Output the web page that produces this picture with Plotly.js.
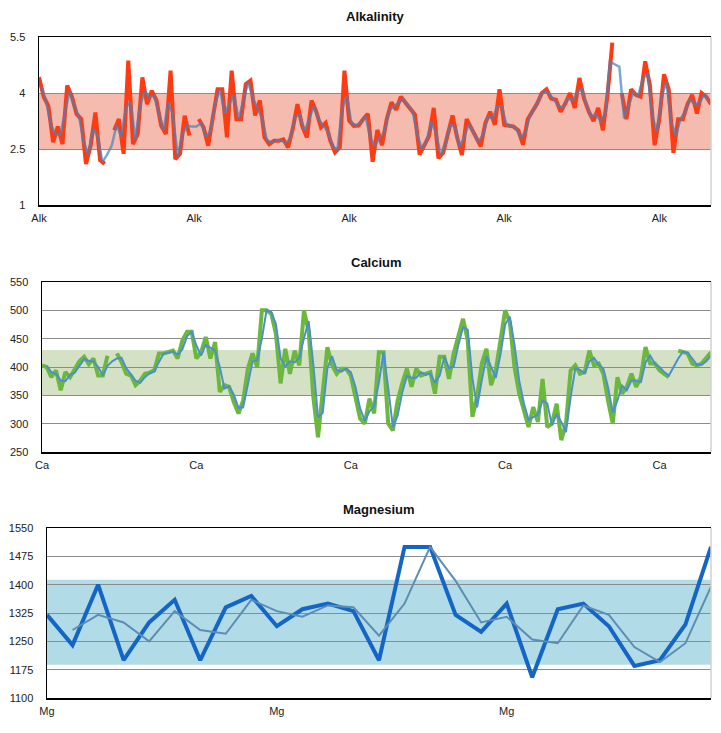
<!DOCTYPE html>
<html>
<head>
<meta charset="utf-8">
<script src="https://cdn.plot.ly/plotly-3.0.1.min.js"></script>
<style>
  html, body { margin: 0; padding: 0; background: #fff; }
  #plotDiv { width: 721px; height: 733px; }
</style>
</head>
<body>
<div id="plotDiv"></div>
<script>
// readings, one value per test (null = no reading that day)
var alkValues = [
  4.42, 3.9, 3.65, 2.68, 3.1, 2.63, 4.2, 3.9, 3.44, 3.3,
  2.1, 2.6, 3.48, 2.2, 2.1, null, 3.0, 3.3, 2.37, 4.87,
  2.63, 2.9, 4.42, 3.7, 4.06, 3.8, 3.12, 2.9, 4.6, 2.23,
  2.37, 3.39, 2.86, null, 3.3, 3.08, 2.59, 3.35, 4.1, 4.1,
  2.81, 4.6, 3.3, 3.3, 4.24, 4.33, 3.4, 3.8, 2.81, 2.63,
  2.72, 2.72, 2.76, 2.54, 3.04, 3.7, 3.12, 2.81, 3.8, 3.5,
  3.08, 3.2, 2.72, 2.41, 2.54, 4.6, 3.26, 3.12, 3.13, 3.3,
  3.44, 2.16, 3.01, 2.6, 3.3, 3.75, 3.55, 3.9, 3.75, 3.6,
  3.42, 2.35, 2.6, 2.85, 3.6, 2.25, 2.4, 2.9, 3.4, 2.8,
  2.34, 3.3, 3.05, 2.8, 2.57, 3.2, 3.5, 3.15, 4.1, 3.15,
  3.13, 3.1, 3.0, 2.62, 3.3, 3.5, 3.72, 4.0, 4.1, 3.85,
  3.82, 3.5, 3.72, 4.0, 3.6, 4.4, 3.85, 3.5, 3.25, 3.6,
  3.0, 3.97, 5.35, null, 4.0, 3.3, 4.1, 3.95, 3.9, 4.85,
  4.2, 2.6, 3.3, 4.5, 4.1, 2.4, 3.3, 3.3, 3.7, 3.95,
  3.45, 4.0, 3.9, 3.7
];
var alkAvg = [
  null, 4.16, 3.78, 3.17, 2.89, 2.87, 3.42, 4.05, 3.67, 3.37,
  2.7, 2.35, 3.04, 2.84, 2.15, 2.35, 2.6, 3.15, 2.84, 3.62,
  3.75, 2.77, 3.66, 4.06, 3.88, 3.93, 3.46, 3.01, 3.75, 3.42,
  2.3, 2.88, 3.13, 3.1, 3.1, 3.19, 2.84, 2.97, 3.73, 4.1,
  3.46, 3.71, 3.95, 3.3, 3.77, 4.29, 3.87, 3.6, 3.31, 2.72,
  2.68, 2.72, 2.74, 2.65, 2.79, 3.37, 3.41, 2.97, 3.31, 3.65,
  3.29, 3.14, 2.96, 2.57, 2.48, 3.57, 3.93, 3.19, 3.13, 3.22,
  3.37, 2.8, 2.59, 2.81, 2.95, 3.53, 3.65, 3.73, 3.83, 3.68,
  3.51, 2.89, 2.48, 2.73, 3.23, 2.93, 2.33, 2.65, 3.15, 3.1,
  2.57, 2.82, 3.18, 2.93, 2.69, 2.89, 3.35, 3.33, 3.63, 3.63,
  3.14, 3.12, 3.05, 2.81, 2.96, 3.4, 3.61, 3.86, 4.05, 3.98,
  3.84, 3.66, 3.61, 3.86, 3.8, 4.0, 4.13, 3.68, 3.38, 3.43,
  3.25, 3.44, 4.84, 4.77, 4.7, 3.32, 3.7, 4.03, 3.93, 4.38,
  4.53, 3.4, 2.95, 3.9, 4.3, 3.25, 2.85, 3.3, 3.5, 3.83,
  3.7, 3.73, 3.95, 3.8
];

var caValues = [
  403, 400, 382, 394, 359, 391, 382, 397, 410, 418,
  405, 415, 385, 385, 420, null, 424, 409, 388, 385,
  368, 376, 388, 390, 394, 424, 424, 426, 429, 415,
  447, 462, 462, 415, 426, 453, 415, 444, 356, 368,
  365, 338, 318, 341, 397, 424, 400, 500, 500, 494,
  459, 371, 432, 388, 429, 403, 500, 462, 347, 276,
  362, 435, 403, 388, 397, 397, 385, 345, 309, 300,
  344, 318, 426, 426, 300, 288, 340, 371, 397, 365,
  397, 385, 388, 391, 353, 418, 418, 379, 424, 455,
  485, 447, 312, 347, 406, 432, 368, 394, 450, 500,
  479, 400, 353, 320, 294, 329, 303, 379, 294, 300,
  335, 271, 300, 394, 403, 388, 391, 429, 403, 406,
  388, 340, 300, 382, 353, 365, 388, 365, 382, 435,
  406, 406, 394, 388, 382, null, 429, 426, 424, 406,
  403, 406, 415, 426
];
var caAvg = [
  null, 402, 391, 388, 376, 375, 386, 390, 403, 414,
  411, 410, 400, 385, 402, 410, 415, 416, 398, 386,
  376, 372, 382, 389, 392, 409, 424, 425, 427, 422,
  431, 454, 462, 438, 420, 439, 434, 429, 400, 362,
  366, 351, 328, 329, 369, 410, 412, 450, 500, 497,
  476, 415, 401, 410, 408, 416, 451, 481, 404, 311,
  319, 398, 419, 395, 392, 397, 391, 365, 327, 305,
  322, 331, 372, 426, 363, 294, 314, 355, 384, 381,
  381, 391, 386, 389, 372, 385, 418, 398, 401, 439,
  470, 466, 380, 329, 376, 419, 400, 381, 422, 475,
  489, 439, 376, 336, 307, 311, 316, 341, 336, 297,
  317, 303, 285, 347, 398, 395, 389, 410, 416, 404,
  397, 364, 320, 341, 367, 359, 376, 376, 373, 408,
  420, 406, 400, 391, 385, 400, 415, 427, 425, 415,
  404, 404, 410, 420
];

var mgValues = [1320, 1240, 1400, 1200, 1300, 1360, 1200, 1340, 1370, 1290,
  1335, 1350, 1330, 1200, 1500, 1500, 1320, 1275, 1350, 1155,
  1335, 1350, 1290, 1185, 1200, 1295, 1500];
var mgAvg = [null, 1280, 1320, 1300, 1250, 1330, 1280, 1270, 1360, 1330,
  1315, 1345, 1340, 1265, 1350, 1500, 1410, 1300, 1315, 1255,
  1245, 1345, 1320, 1235, 1195, 1245, 1395];

// target ranges (shaded bands)
var alkRange = [2.5, 4];
var caRange = [350, 430];
var mgRange = [1188, 1413];

// category labels
var alkTicks = [0, 33, 66, 99, 132];
var caTicks = [0, 33, 66, 99, 132];
var mgTicks = [0, 9, 18];

function idx(arr, shift){
  return arr.map(function(v, i){ return i + shift; });
}

function lineTrace(vals, shift, color, width, axis){
  return {
    x: idx(vals, shift),
    y: vals,
    xaxis: 'x' + axis,
    yaxis: 'y' + axis,
    mode: 'lines',
    type: 'scatter',
    connectgaps: false,
    line: {color: color, width: width, shape: 'linear'},
    hoverinfo: 'skip'
  };
}

function band(axis, r, color){
  return {
    type: 'rect', layer: 'below',
    xref: 'x' + axis + ' domain', yref: 'y' + axis,
    x0: 0, x1: 1, y0: r[0], y1: r[1],
    fillcolor: color, line: {width: 0}
  };
}

function rightEdge(axis){
  return {
    type: 'line', layer: 'above',
    xref: 'x' + axis + ' domain', yref: 'y' + axis + ' domain',
    x0: 1, x1: 1, y0: 0, y1: 1,
    line: {color: '#d0d0d0', width: 1.5}
  };
}

function xAx(dom, ticks, label, n, anchor){
  return {
    domain: dom, anchor: anchor,
    range: [0, n - 1],
    tickmode: 'array', tickvals: ticks,
    ticktext: ticks.map(function(){ return label; }),
    showgrid: false, zeroline: false,
    showline: true, mirror: true, linecolor: '#000', linewidth: 1.5,
    ticks: '', ticklabelstandoff: 2,
    tickfont: {size: 11, color: '#222'}
  };
}

function yAx(dom, rng, tv, tt, anchor){
  return {
    domain: dom, anchor: anchor,
    range: rng,
    tickmode: 'array', tickvals: tv, ticktext: tt,
    showgrid: true, gridcolor: '#8c8c8c', gridwidth: 1,
    zeroline: false,
    showline: true, linecolor: '#000', linewidth: 1.5,
    ticks: '', ticklabelstandoff: 10,
    tickfont: {size: 11, color: '#222'}
  };
}

function makePlot(){
  var W = 721, H = 733;

  var data = [
    lineTrace(alkValues, 0, '#ff3b12', 4, ''),
    lineTrace(alkAvg, -0.5, 'rgba(70,130,190,0.7)', 2.5, ''),
    lineTrace(caValues, 0, '#6cb83c', 4, '2'),
    lineTrace(caAvg, 0, '#4a8fd2', 2, '2'),
    lineTrace(mgValues, 0, '#1466c6', 4, '3'),
    lineTrace(mgAvg, 0, '#5b8db5', 2, '3')
  ];

  var layout = {
    width: W, height: H,
    margin: {l: 0, r: 0, t: 0, b: 0},
    paper_bgcolor: '#fff', plot_bgcolor: '#fff',
    showlegend: false,
    font: {family: '"Liberation Sans", Arial, sans-serif', color: '#222'},

    xaxis: xAx([39 / W, 711 / W], alkTicks, 'Alk', alkValues.length, 'y'),
    yaxis: yAx([1 - 205 / H, 1 - 37 / H], [1, 5.5], [1, 2.5, 4, 5.5], ['1', '2.5', '4', '5.5'], 'x'),

    xaxis2: xAx([42 / W, 711 / W], caTicks, 'Ca', caValues.length, 'y2'),
    yaxis2: yAx([1 - 452 / H, 1 - 282 / H], [250, 550],
      [250, 300, 350, 400, 450, 500, 550], ['250', '300', '350', '400', '450', '500', '550'], 'x2'),

    xaxis3: xAx([47 / W, 711 / W], mgTicks, 'Mg', mgValues.length, 'y3'),
    yaxis3: yAx([1 - 698 / H, 1 - 528 / H], [1100, 1550],
      [1100, 1175, 1250, 1325, 1400, 1475, 1550], ['1100', '1175', '1250', '1325', '1400', '1475', '1550'], 'x3'),

    shapes: [
      band('', alkRange, '#f5bbaf'),
      band('2', caRange, '#d4e1c4'),
      band('3', mgRange, '#b2dbe8'),
      rightEdge(''), rightEdge('2'), rightEdge('3')
    ],

    annotations: [
      {text: '<b>Alkalinity</b>', xref: 'paper', yref: 'paper', x: 375 / W, y: 1 - 17 / H,
       showarrow: false, xanchor: 'center', yanchor: 'middle', font: {size: 13, color: '#111'}},
      {text: '<b>Calcium</b>', xref: 'paper', yref: 'paper', x: 376 / W, y: 1 - 262 / H,
       showarrow: false, xanchor: 'center', yanchor: 'middle', font: {size: 13, color: '#111'}},
      {text: '<b>Magnesium</b>', xref: 'paper', yref: 'paper', x: 379 / W, y: 1 - 509 / H,
       showarrow: false, xanchor: 'center', yanchor: 'middle', font: {size: 13, color: '#111'}}
    ]
  };

  Plotly.newPlot('plotDiv', data, layout, {displayModeBar: false, staticPlot: true});
}

makePlot();
</script>
</body>
</html>
